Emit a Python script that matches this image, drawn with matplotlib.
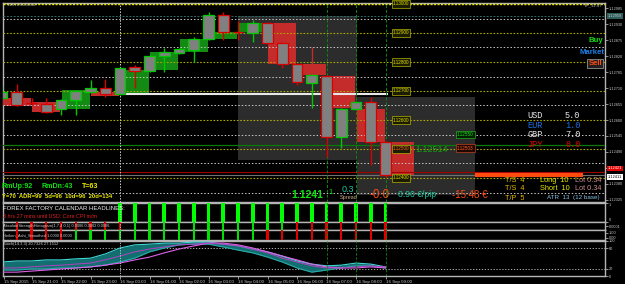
import matplotlib
matplotlib.use('Agg')
import matplotlib.pyplot as plt
from matplotlib.patches import Rectangle

plt.rcParams['font.family'] = ['Liberation Sans', 'DejaVu Sans']

# ---------------- data ----------------
# half-hour bars, index relative to 16 Sep 00:00
bar_idx = list(range(-8, 19))
opens = [1.12676, 1.12697, 1.12659, 1.12655, 1.12638, 1.12669, 1.12697, 1.12710, 1.12690,
         1.12783, 1.12769, 1.12821, 1.12831, 1.12841, 1.12879, 1.12962, 1.12903, 1.12900,
         1.12934, 1.12866, 1.12793, 1.12728, 1.12752, 1.12541, 1.12638, 1.12662, 1.12524]
highs = [1.12721, 1.12724, 1.12676, 1.12676, 1.12672, 1.12703, 1.12738, 1.12741, 1.12783,
         1.12790, 1.12824, 1.12848, 1.12848, 1.12886, 1.12972, 1.12972, 1.12941, 1.12945,
         1.12938, 1.12869, 1.12796, 1.12759, 1.12755, 1.12641, 1.12666, 1.12679, 1.12528]
lows = [1.12669, 1.12648, 1.12652, 1.12625, 1.12617, 1.12617, 1.12693, 1.12679, 1.12686,
        1.12710, 1.12766, 1.12766, 1.12828, 1.12800, 1.12876, 1.12876, 1.12876, 1.12869,
        1.12862, 1.12779, 1.12721, 1.12641, 1.12472, 1.12503, 1.12634, 1.12445, 1.12405]
closes = [1.12697, 1.12652, 1.12658, 1.12628, 1.12669, 1.12700, 1.12710, 1.12690, 1.12779,
          1.12769, 1.12821, 1.12834, 1.12845, 1.12879, 1.12962, 1.12903, 1.12902, 1.12934,
          1.12866, 1.12793, 1.12731, 1.12755, 1.12541, 1.12638, 1.12662, 1.12524, 1.12411]

# hourly Heiken-Ashi blocks (start bar index)
ha_start = [-8, -6, -4, -2, 0, 2, 4, 6, 8, 10, 12, 14, 16, 18]
ha_open = [1.12676, 1.12662, 1.12638, 1.12697, 1.12690, 1.12772, 1.12834, 1.12879, 1.12903,
           1.12934, 1.12793, 1.12752, 1.12638, 1.12524]
ha_close = [1.12648, 1.12628, 1.12703, 1.12683, 1.12772, 1.12834, 1.12879, 1.12903, 1.12934,
            1.12793, 1.12755, 1.12641, 1.12524, 1.12411]
ha_high = [1.12676, 1.12662, 1.12703, 1.12697, 1.12772, 1.12834, 1.12879, 1.12903, 1.12934,
           1.12934, 1.12852, 1.12752, 1.12638, 1.12524]

round_levels = [1.13000, 1.12900, 1.12800, 1.12700, 1.12600, 1.12500, 1.12400]
round_labels = ['1.13000', '1.12900', '1.12800', '1.12700', '1.12600', '1.12500', '1.12400']
half_levels = [1.12950, 1.12850, 1.12750, 1.12650, 1.12550, 1.12450, 1.12350]
day_open = 1.12690
green_level = 1.12514
red_level = 1.12421
teal_level = 1.12959
bid = 1.12411

range_boxes = [(8.0, 16.07, 1.12462, 1.12959), (16.07, 24.07, 1.12341, 1.12679)]

price_ticks = [1.12985, 1.12930, 1.12875, 1.12820, 1.12765, 1.12710, 1.12655, 1.12600,
               1.12545, 1.12490, 1.12435, 1.12380, 1.12325]

currencies = ['USD', 'EUR', 'GBP', 'JPY']
strengths = [5.0, 1.0, 7.0, 8.0]

signal_idx = list(range(0, 19))
signal_vals = [1] * 19
hist_sign = [-1, -1, -1, -1, -1, -1, -1, -1, -1, 1, 1, 1, 1, 1, 1, 1, 1, 1, 1, 1,
             -1, -1, -1, -1, -1, -1, -1]
has_sign = [-1, -1, -1, -1, -1, 1, 1, 1, 1, 1, 1, 1, 1, 1, 1, 1, 1, 1,
            -1, -1, -1, -1, -1, -1, -1, -1, -1]

stoch_fast_hi = [40, 43, 43, 46, 46, 49, 51, 63, 80, 89, 91, 94, 94, 97, 97, 91, 86, 77,
                 69, 57, 43, 34, 29, 31, 37, 34, 26]
stoch_fast_lo = [17, 17, 20, 20, 23, 23, 26, 31, 40, 51, 69, 80, 89, 91, 91, 83, 74, 66,
                 54, 40, 23, 11, 17, 23, 29, 29, 23]
stoch_mid = [23, 23, 26, 29, 31, 34, 37, 46, 57, 69, 77, 83, 89, 91, 94, 91, 86, 77,
             66, 51, 40, 29, 23, 23, 26, 29, 26]
stoch_slow = [11, 11, 14, 17, 20, 23, 26, 31, 37, 46, 54, 66, 77, 86, 94, 94, 89, 80,
              69, 57, 46, 34, 26, 23, 23, 26, 23]

time_ticks = [-7.85, -6, -4, -2, 0, 2, 4, 6, 8, 10, 12, 14, 16, 18]
time_labels = ['15 Sep 2015', '15 Sep 21:00', '15 Sep 22:00', '15 Sep 23:00',
               '16 Sep 00:00', '16 Sep 01:00', '16 Sep 02:00', '16 Sep 03:00',
               '16 Sep 04:00', '16 Sep 05:00', '16 Sep 06:00', '16 Sep 07:00',
               '16 Sep 08:00', '16 Sep 09:00']

# ---------------- layout ----------------
W, H = 625, 284
X0_PX, BAR_PX = 120.0, 14.75
XL = ((3 - X0_PX) / BAR_PX, (605 - X0_PX) / BAR_PX)
PX_PER_UNIT = 29000.0
YL = (1.13 - 198 / PX_PER_UNIT, 1.13 + 1 / PX_PER_UNIT)

fig = plt.figure(figsize=(W / 100, H / 100), dpi=100, facecolor='black')


def axbox(x0, y0, x1, y1):
    ax = fig.add_axes([x0 / W, 1 - y1 / H, (x1 - x0) / W, (y1 - y0) / H])
    ax.set_facecolor('black')
    for s in ax.spines.values():
        s.set_color('#b4b4b4')
        s.set_linewidth(1.0)
    ax.set_xlim(XL)
    ax.tick_params(axis='x', bottom=False, labelbottom=False)
    ax.yaxis.tick_right()
    ax.tick_params(axis='y', colors='#c8c8c8', labelsize=2.8, length=2, width=0.5, pad=1)
    return ax


def T(x, y, s, size=5, color='white', weight='normal', ha='left', family=None, **kw):
    d = dict(fontsize=size, color=color, fontweight=weight, ha=ha, va='center')
    if family:
        d['family'] = family
    d.update(kw)
    fig.text(x / W, 1 - y / H, s, **d)


# ---------------- main panel ----------------
ax = axbox(3, 3, 605, 202)
ax.set_ylim(YL)
ax.set_yticks(price_ticks)
ax.set_yticklabels(['%.5f' % p for p in price_ticks])

for (k0, k1, p0, p1) in range_boxes:
    ax.add_patch(Rectangle((k0, p0), k1 - k0, p1 - p0, facecolor='#2c2c2c', edgecolor='none', zorder=1))

for k, o, c, hi in zip(ha_start, ha_open, ha_close, ha_high):
    col = '#138a13' if c > o else '#c42b2b'
    ax.add_patch(Rectangle((k + 0.05, min(o, c)), 1.9, abs(c - o), facecolor=col,
                           edgecolor='none', zorder=3))
    if hi > max(o, c):
        ax.vlines(k + 1, max(o, c), hi, color=col, lw=1.0, zorder=3)

ax.axhline(round_levels[0], color='#e6e600', lw=1.0, ls=(0, (1.5, 1)), zorder=4)
for lv in round_levels[1:]:
    ax.axhline(lv, color='#a8a800', lw=0.8, ls=(0, (1.5, 1.5)), zorder=4)
for lv in half_levels:
    ax.axhline(lv, color='#c8c8c8', lw=0.7, ls=(0, (1.5, 2)), zorder=4)
ax.axhline(teal_level, color='#2e6b6b', lw=0.7, ls=(0, (2, 1.5)), zorder=4)
ax.axhline(green_level, color='#0a7a0a', lw=0.9, zorder=4)
ax.axhline(red_level, color='#a00000', lw=0.8, zorder=4)
ax.axhline(bid, color='#707070', lw=0.8, zorder=4)
ax.hlines(day_open, 0, 18.2, color='#e8e8e8', lw=1.5, zorder=4)
ax.hlines(bid, 24.07, 31.4, color='#ff4a10', lw=3, zorder=6)
ax.axvline(0, color='#d0d0d0', lw=0.7, ls=(0, (1.5, 1.5)), zorder=4)
for kv in (14, 16, 18):
    ax.axvline(kv, color='#0a8a0a', lw=0.7, ls=(0, (3, 2)), zorder=4)

for k, o, h, l, c in zip(bar_idx, opens, highs, lows, closes):
    col = '#00c800' if c >= o else '#d80000'
    ax.vlines(k, l, h, color=col, lw=1.0, zorder=5)
    if abs(c - o) < 0.00002:
        ax.hlines(o, k - 0.37, k + 0.37, color=col, lw=1.0, zorder=6)
    else:
        ax.add_patch(Rectangle((k - 0.37, min(o, c)), 0.74, abs(c - o), facecolor='#808080',
                               edgecolor=col, lw=0.9, zorder=6))

for lv, lab in zip(round_levels, round_labels):
    tc = '#ff5a28' if lab == '1.12500' else '#e0e000'
    ax.text(19.05, lv, lab, fontsize=3.3, color=tc, ha='center', va='center', zorder=7,
            bbox=dict(boxstyle='square,pad=0.25', fc='#1c1c00', ec='#b0b000', lw=0.5))
ax.text(23.4, 1.12550, '1.12550', fontsize=3.3, color='#20e020', ha='center', va='center', zorder=7,
        bbox=dict(boxstyle='square,pad=0.25', fc='#002000', ec='#20b020', lw=0.5))
ax.text(23.4, 1.12503, '1.12503', fontsize=3.3, color='#ff6030', ha='center', va='center', zorder=7,
        bbox=dict(boxstyle='square,pad=0.25', fc='#200800', ec='#c04020', lw=0.5))

ytr = ax.get_yaxis_transform()
ax.text(1.005, teal_level, '%.5f' % teal_level, transform=ytr, fontsize=2.8, color='#c8c8c8',
        va='center', clip_on=False, bbox=dict(boxstyle='square,pad=0.2', fc='#2e5e5e', ec='none'))
ax.text(1.005, red_level + 0.00012, '%.5f' % red_level, transform=ytr, fontsize=2.8, color='white',
        va='center', clip_on=False, bbox=dict(boxstyle='square,pad=0.2', fc='#e00000', ec='none'))
ax.text(1.005, bid - 0.00008, '%.5f' % bid, transform=ytr, fontsize=2.8, color='black',
        va='center', clip_on=False, bbox=dict(boxstyle='square,pad=0.2', fc='white', ec='none'))

# ---------------- sub panels ----------------
ax1 = axbox(3, 203, 605, 222)
ax1.set_ylim(0, 1)
ax1.bar(signal_idx, signal_vals, width=0.24, color='#00ff00', zorder=3)
ax1.set_yticks([1, 0])
ax1.set_yticklabels(['1', '0'])
ax1.get_yticklabels()[0].set_va('top')
ax1.get_yticklabels()[1].set_va('bottom')

ax2 = axbox(3, 222, 605, 230)
ax2.set_ylim(0, 1)
ax2.bar(bar_idx, [1] * len(bar_idx), width=0.16,
        color=['#00e000' if s > 0 else '#e00000' for s in hist_sign], zorder=3)
ax2.set_yticks([0.5])
ax2.set_yticklabels(['0.0001'])

ax3 = axbox(3, 230, 605, 240)
ax3.set_ylim(0, 1)
ax3.bar(bar_idx, [1] * len(bar_idx), width=0.16,
        color=['#00e000' if s > 0 else '#e00000' for s in has_sign], zorder=3)
ax3.set_yticks([0.75, 0.25])
ax3.set_yticklabels(['1.00', '0.00'])

ax4 = axbox(3, 241, 605, 276)
ax4.set_ylim(0, 100)
ax4.set_yticks([100, 80, 20, 0])
ax4.set_yticklabels(['100', '80', '20', '0'])
ax4.axhline(80, color='#c8c8c8', lw=0.6, ls=(0, (1.5, 2)))
ax4.axhline(20, color='#c8c8c8', lw=0.6, ls=(0, (1.5, 2)))
ax4.fill_between(bar_idx, stoch_fast_lo, stoch_fast_hi, color='#136f6f', lw=0, zorder=2)
ax4.plot(bar_idx, stoch_fast_hi, color='#40d8d8', lw=0.8, zorder=3)
ax4.plot(bar_idx, stoch_fast_lo, color='#2aa8a8', lw=0.8, zorder=3)
ax4.plot(bar_idx, stoch_slow, color='#e060e8', lw=0.8, zorder=4)
ax4.plot(bar_idx, stoch_mid, color='#b040c0', lw=0.7, zorder=4)
ax4.set_xticks(time_ticks)
ax4.set_xticklabels(time_labels)
ax4.tick_params(axis='x', bottom=True, labelbottom=True, colors='#c8c8c8', labelsize=3.2,
                length=2, width=0.5, pad=1)
for lab in ax4.get_xticklabels():
    lab.set_ha('left')

for a in (ax1, ax2, ax3, ax4):
    a.axvline(0, color='#d0d0d0', lw=0.6, ls=(0, (1.5, 1.5)), zorder=5)
    for kv in (14, 16, 18):
        a.axvline(kv, color='#0a8a0a', lw=0.6, ls=(0, (3, 2)), zorder=5)

# ---------------- HUD texts ----------------
T(8, 5, 'EURUSD,M30', 3.2, '#b0b0b0')
T(603, 5, 'TP_11:47', 3.2, '#b0b0b0', ha='right')
T(603, 41, 'Buy', 5.6, '#10e010', 'bold', ha='right')
T(605, 52, 'Market', 5.6, '#1e7fe8', 'bold', ha='right')
T(602, 63.5, 'Sell', 5.6, '#ff4a10', 'bold', ha='right',
  bbox=dict(boxstyle='square,pad=0.15', fc='#202020', ec='#909090', lw=0.6))

cur_colors = ['#e8e8e8', '#1e6fe0', '#e8e8e8', '#e00000']
for i, (cname, sv, cc) in enumerate(zip(currencies, strengths, cur_colors)):
    T(527, 115.5 + 9.6 * i, cname, 6.2, cc, family='Liberation Mono',
      fontstretch='expanded')
    T(565, 115.5 + 9.6 * i, '%.1f' % sv, 6.2, cc, family='Liberation Mono')

T(415, 150, '1.12514', 6.4, '#10a010')

T(2, 187, 'RmUp:92', 5.1, '#10e010', 'bold')
T(41, 187, 'RmDn:43', 5.1, '#10e010', 'bold')
T(82, 187, 'T=63', 5.1, '#e8e800', 'bold')
T(2, 196, 'Y=70  ADR=99  5d=96  10d=96  20d=134', 4.2, '#e8e800', 'bold')

T(291, 194.5, '1.1241', 7.6, '#10e010', 'bold')
T(328, 193, '1', 5.5, '#10e010')
T(342, 189, '0.3', 6.5, '#20c8a0')
T(340, 198, 'Spread', 4.0, '#c8a882')
T(370, 194.5, '-0.0', 8.4, '#ff4a10')
T(398, 194.5, '0.90 €/pip', 6.2, '#20c8a0')
T(452, 194.5, '-15.48 €', 7.0, '#ff4a10')

T(505, 180, 'T/S  4', 5.3, '#e0b400')
T(505, 189, 'T/S  4', 5.3, '#e0b400')
T(505, 198, 'T/P  5', 5.3, '#e0b400')
T(540, 180, 'Long  10', 5.3, '#e8e800')
T(540, 189, 'Short  10', 5.3, '#e8e800')
T(575, 180, 'Lot 0.34', 5.3, '#c88888')
T(575, 189, 'Lot 0.34', 5.3, '#c88888')
T(547, 197.5, 'ATR  13  (12 base)', 4.5, '#88c0e0')

T(3, 209, 'FOREX FACTORY CALENDAR HEADLINES:', 4.3, '#f0f0f0')
T(3, 216, '3 hrs 27 mins until USD: Core CPI m/m', 3.9, '#e02020')
T(3, 226, 'AbsoluteStrengthHistogram(1,7,4,0,1) 0.0006 0.0002 0.0006', 2.9, '#d0d0d0')
T(3, 235, 'Heiken_Ashi_Smoothed 1.0000 0.0000', 2.9, '#d0d0d0')
T(3, 244.5, 'Stoch(14,3,3) 20.7326 27.1512', 2.9, '#d0d0d0')

fig.savefig('out.png', dpi=100, facecolor='black')
